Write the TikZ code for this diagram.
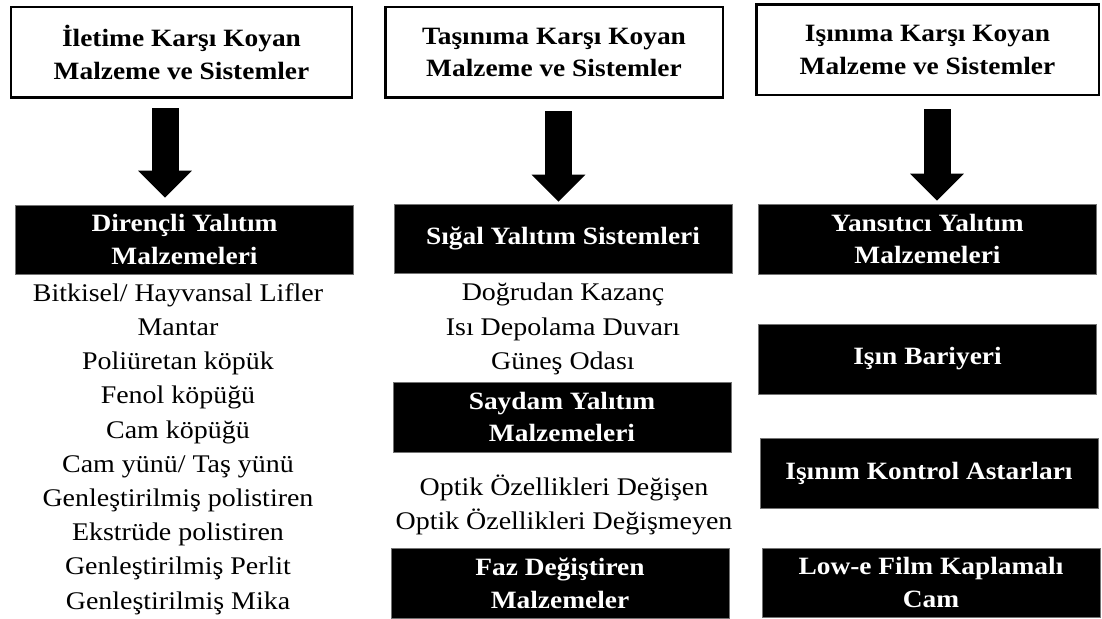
\documentclass[tikz,border=0pt]{standalone}
\usepackage{fontspec}
\setmainfont{Liberation Serif}[FakeStretch=1.1]
\usetikzlibrary{arrows.meta,calc}
\begin{document}
\begin{tikzpicture}[x=1bp,y=-1bp,
  headbox/.style={draw=black, line width=2.5bp, fill=white, minimum height=90.5bp,
    align=center, font=\fontsize{25}{33}\selectfont\bfseries, inner sep=0pt},
  catbox/.style={fill=black, draw=black!55, line width=0.6bp, text=white,
    minimum width=338bp, minimum height=69bp, align=center,
    font=\fontsize{25}{33}\selectfont\bfseries, inner sep=0pt},
  listtext/.style={align=center, font=\fontsize{25.5}{34.3}\selectfont, inner sep=0pt},
  blockarrow/.style={line width=27bp, -{Triangle[width=52bp,length=27bp]}}
]
\path[use as bounding box, fill=white] (0,0) rectangle (1102,619);

% header boxes
\node[headbox, minimum width=340.5bp] (t1) at (181.5,52.5) {İletime Karşı Koyan\\Malzeme ve Sistemler};
\node[headbox, minimum width=337.5bp] (t2) at (554,52.5) {Taşınıma Karşı Koyan\\Malzeme ve Sistemler};
\node[headbox, minimum width=342.5bp] (t3) at (927.5,50) {Işınıma Karşı Koyan\\Malzeme ve Sistemler};

% category boxes
\node[catbox] (b1) at (184.5,239.5) {Dirençli Yalıtım\\Malzemeleri};
\node[catbox] (s1) at (563,238.5) {Sığal Yalıtım Sistemleri};
\node[catbox, minimum height=70bp] (s2) at (562,417) {Saydam Yalıtım\\Malzemeleri};
\node[catbox, minimum height=70bp] (s3) at (560,583) {Faz Değiştiren\\Malzemeler};
\node[catbox, minimum height=70bp] (r1) at (927.5,239) {Yansıtıcı Yalıtım\\Malzemeleri};
\node[catbox, minimum height=70bp] (r2) at (927.5,359) {Işın Bariyeri};
\node[catbox, minimum height=70bp] (r3) at (929,473) {Işınım Kontrol Astarları};
\node[catbox] (r4) at (931,582.5) {Low-e Film Kaplamalı\\Cam};

% lists
\node[listtext] (l1) at (178,449) {Bitkisel/ Hayvansal Lifler\\Mantar\\Poliüretan köpük\\Fenol köpüğü\\Cam köpüğü\\Cam yünü/ Taş yünü\\Genleştirilmiş polistiren\\Ekstrüde polistiren\\Genleştirilmiş Perlit\\Genleştirilmiş Mika};
\node[listtext] (l2) at (563,329) {Doğrudan Kazanç\\Isı Depolama Duvarı\\Güneş Odası};
\node[listtext] (l3) at (564,505) {Optik Özellikleri Değişen\\Optik Özellikleri Değişmeyen};

% arrows
\coordinate (ax1) at (165,0);
\coordinate (ax2) at (558.5,0);
\coordinate (ax3) at (937,0);
\draw[blockarrow] ($(t1.south -| ax1)+(0,9.5)$) -- ($(b1.north -| ax1)+(0,-7)$);
\draw[blockarrow] ($(t2.south -| ax2)+(0,12.5)$) -- ($(s1.north -| ax2)+(0,-2)$);
\draw[blockarrow] ($(t3.south -| ax3)+(0,13)$) -- ($(r1.north -| ax3)+(0,-3)$);
\end{tikzpicture}
\end{document}
